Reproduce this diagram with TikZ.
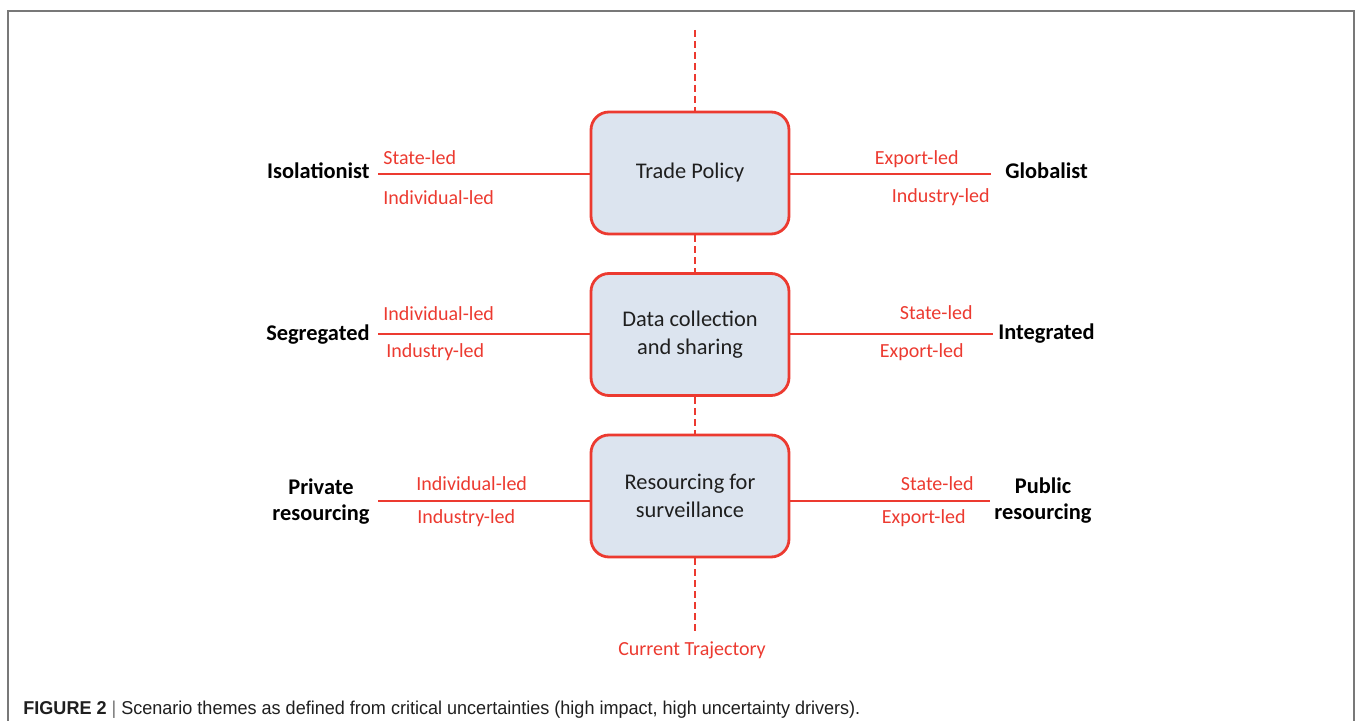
\documentclass[tikz,border=0pt]{standalone}
\usepackage{fontspec}
\setmainfont{Carlito}
\newfontfamily\capfont[FakeStretch=0.97]{Liberation Sans}
\definecolor{myred}{RGB}{236,58,48}
\definecolor{boxfill}{RGB}{220,228,239}
\definecolor{framegray}{RGB}{120,120,120}
\tikzset{
  themebox/.style={draw=myred, line width=1.4pt, fill=boxfill, rounded corners=9pt,
    minimum width=99pt, minimum height=61pt, inner sep=0pt, align=center,
    font=\fontsize{11.2}{13.75}\selectfont, text=black!88},
  axisline/.style={draw=myred, line width=1.2pt},
  dashline/.style={draw=myred, line width=1.2pt, dash pattern=on 3.5pt off 2pt},
  redlbl/.style={text=myred, font=\fontsize{10}{12}\selectfont, inner sep=0pt},
  poltext/.style={text=black, font=\bfseries\fontsize{11.2}{13}\selectfont, inner sep=0pt, align=center},
}
\begin{document}
\begin{tikzpicture}[x=0.5pt,y=-0.5pt]
\useasboundingbox (0,0) rectangle (1356,721);
% frame
\draw[framegray, line width=1pt] (8,721) -- (8,11) -- (1354,11) -- (1354,721);

% boxes
\node[themebox] (b1) at (690,173) {Trade Policy};
\node[themebox] (b2) at (690,334.5) {Data collection\\and sharing};
\node[themebox] (b3) at (690,496) {Resourcing for\\surveillance};

% vertical dashed trajectory
\coordinate (vtop) at (695,30);
\coordinate (vbot) at (695,633);
\draw[dashline] (vtop) -- (vtop |- b1.north);
\draw[dashline] (vtop |- b1.south) -- (vtop |- b2.north);
\draw[dashline] (vtop |- b2.south) -- (vtop |- b3.north);
\draw[dashline] (vtop |- b3.south) -- (vbot);
\node[redlbl, anchor=base] (cur) at (692,656) {Current Trajectory};

% row 1
\coordinate (l1) at (378,174);
\coordinate (r1) at (991,174);
\draw[axisline] (l1) -- (b1.west |- l1);
\draw[axisline] (b1.east |- r1) -- (r1);
\node[poltext, anchor=base east] (iso) at (370,179) {Isolationist};
\node[poltext, anchor=base west] (glo) at (1005,179) {Globalist};
\node[redlbl, anchor=base west] (s1) at (383,165) {State-led};
\node[redlbl, anchor=base west] (i1) at (383,205) {Individual-led};
\node[redlbl, anchor=base east] (e1) at (959,165) {Export-led};
\node[redlbl, anchor=base east] (n1) at (990,203) {Industry-led};

% row 2
\coordinate (l2) at (378,334);
\coordinate (r2) at (993,334);
\draw[axisline] (l2) -- (b2.west |- l2);
\draw[axisline] (b2.east |- r2) -- (r2);
\node[poltext, anchor=base east] (seg) at (370,341) {Segregated};
\node[poltext, anchor=base west] (int) at (998,340) {Integrated};
\node[redlbl, anchor=base west] (i2) at (383,321) {Individual-led};
\node[redlbl, anchor=base west] (n2) at (386,358) {Industry-led};
\node[redlbl, anchor=base east] (s2) at (973,320) {State-led};
\node[redlbl, anchor=base east] (e2) at (964,358) {Export-led};

% row 3
\coordinate (l3) at (378,501);
\coordinate (r3) at (990,501);
\draw[axisline] (l3) -- (b3.west |- l3);
\draw[axisline] (b3.east |- r3) -- (r3);
\node[poltext] (priv) at (321,502) {Private\\resourcing};
\node[poltext] (pub) at (1043,501) {Public\\resourcing};
\node[redlbl, anchor=base west] (i3) at (416,491) {Individual-led};
\node[redlbl, anchor=base west] (n3) at (417,524) {Industry-led};
\node[redlbl, anchor=base east] (s3) at (974,491) {State-led};
\node[redlbl, anchor=base east] (e3) at (966,524) {Export-led};

% caption
\node[anchor=base west, inner sep=0pt, text=black!88, font=\capfont\fontsize{9.3}{11}\selectfont] (cap) at (23,714)
  {\textbf{FIGURE 2}\hspace{2.5pt}{\color{black!55}|}\hspace{2.5pt}Scenario themes as defined from critical uncertainties (high impact, high uncertainty drivers).};
\end{tikzpicture}
\end{document}
